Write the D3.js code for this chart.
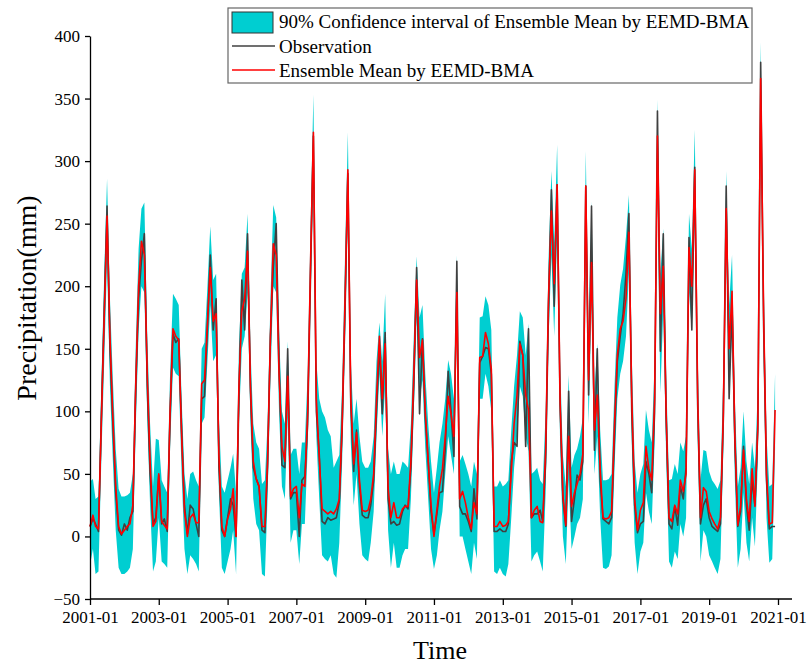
<!DOCTYPE html>
<html lang="en">
<head>
  <meta charset="UTF-8">
  <title>Precipitation - EEMD-BMA</title>
  <script src="https://d3js.org/d3.v7.min.js"></script>
  <style>
    body {
      margin: 0;
      background: #fff;
    }
    svg {
      display: block;
    }
    svg text {
      font-family: "Liberation Serif", "Times New Roman", serif;
      fill: #000;
    }
    .axis path, .axis line {
      stroke: #000;
      stroke-width: 1.3;
    }
    .axis text {
      font-size: 17px;
    }
  </style>
</head>
<body>
<svg width="807" height="666"></svg>
<script>
  // monthly series, 2001-01 .. 2020-12 (one row per year)
  const startMonth = "2001-01";

  const observation = [
    8, 14, 10, 4, 95, 180, 264, 150, 90, 35, 5, 1,
    10, 5, 15, 20, 115, 190, 220, 242, 120, 50, 10, 15,
    49, 10, 14, 4, 95, 162, 155, 158, 85, 25, 2, 25,
    22, 10, 0, 110, 112, 168, 225, 165, 190, 55, 5, 0,
    15, 30, 25, 0, 110, 205, 165, 242, 115, 55, 46, 40,
    5, 3, 55, 160, 215, 250, 140, 57, 55, 150, 30, 35,
    35, 0, 45, 48, 90, 210, 320, 100, 66, 12, 10, 15,
    13, 14, 15, 28, 85, 180, 290, 105, 52, 85, 40, 17,
    15, 15, 25, 45, 100, 153, 98, 163, 30, 10, 12, 9,
    10, 20, 25, 22, 55, 120, 215, 98, 158, 95, 60, 20,
    2, 18, 35, 36, 70, 132, 100, 64, 220, 24, 18, 18,
    12, 4, 38, 14, 139, 144, 151, 150, 130, 4, 4, 6,
    4, 4, 10, 60, 75, 72, 156, 145, 72, 166, 15, 18,
    18, 21, 12, 60, 180, 277, 184, 281, 105, 30, 8, 116,
    12, 30, 49, 45, 60, 280, 113, 264, 69, 150, 45, 14,
    12, 10, 15, 80, 140, 160, 178, 210, 258, 100, 25, 3,
    10, 12, 60, 50, 35, 100, 340, 148, 242, 95, 10, 6,
    24, 9, 40, 30, 55, 239, 165, 295, 105, 10, 25, 30,
    15, 8, 6, 4, 10, 95, 280, 110, 184, 75, 8, 20,
    72, 25, 5, 45, 25, 85, 379, 170, 45, 6, 8, 8
  ];

  const ensembleMean = [
    8, 17, 8, 6, 90, 175, 256, 160, 95, 40, 8, 2,
    5, 8, 10, 25, 120, 200, 236, 225, 130, 60, 8, 12,
    50, 12, 9, 6, 100, 166, 160, 157, 80, 20, 0, 15,
    18, 11, 11, 122, 125, 170, 215, 172, 178, 65, 8, 0,
    14, 22, 38, 0, 120, 180, 190, 228, 120, 60, 46, 40,
    8, 8, 60, 160, 234, 225, 130, 72, 60, 128, 32, 38,
    40, 15, 42, 40, 100, 220, 323, 110, 63, 22, 20, 18,
    20, 18, 22, 30, 90, 190, 293, 110, 58, 83, 45, 21,
    20, 21, 30, 50, 110, 160, 110, 154, 39, 15, 27, 15,
    15, 22, 24, 24, 60, 130, 205, 143, 157, 100, 60, 25,
    0, 21, 40, 54, 80, 112, 98, 80, 195, 30, 36, 27,
    15, 6, 27, 18, 143, 144, 163, 154, 134, 8, 8, 12,
    8, 9, 12, 51, 90, 113, 154, 145, 113, 101, 15, 21,
    24, 12, 11, 70, 190, 260, 202, 281, 110, 33, 9, 80,
    24, 35, 42, 50, 66, 280, 125, 219, 85, 113, 54, 15,
    14, 15, 20, 90, 145, 166, 172, 190, 243, 112, 30, 5,
    21, 27, 72, 54, 45, 110, 320, 178, 216, 100, 15, 12,
    25, 18, 45, 36, 50, 231, 200, 293, 113, 15, 39, 36,
    20, 14, 10, 6, 15, 100, 262, 150, 196, 80, 9, 24,
    69, 30, 12, 54, 24, 90, 366, 180, 50, 10, 11, 101
  ];

  // 90% confidence interval bounds
  const ciUpper = [
    44, 46, 30, 32, 120, 210, 286, 190, 125, 70, 38, 32,
    32, 33, 35, 50, 150, 230, 262, 267, 160, 90, 40, 78,
    77, 45, 40, 35, 130, 194, 190, 185, 110, 50, 30, 50,
    52, 45, 40, 150, 155, 200, 248, 205, 210, 95, 40, 35,
    45, 55, 66, 35, 150, 210, 215, 258, 150, 90, 75, 70,
    42, 45, 90, 190, 265, 255, 165, 100, 90, 156, 65, 70,
    70, 50, 75, 75, 130, 250, 353, 140, 110, 100, 95, 85,
    80, 55, 60, 65, 120, 225, 323, 140, 90, 110, 80, 60,
    55, 55, 60, 80, 140, 171, 140, 194, 70, 50, 60, 50,
    50, 60, 58, 55, 90, 160, 224, 175, 185, 130, 90, 60,
    35, 55, 75, 90, 110, 141, 130, 110, 225, 60, 65, 58,
    50, 40, 60, 50, 175, 176, 192, 185, 165, 40, 40, 45,
    40, 42, 45, 85, 120, 145, 180, 175, 145, 170, 50, 52,
    55, 45, 42, 100, 220, 292, 235, 313, 140, 65, 40, 129,
    55, 65, 70, 80, 95, 308, 155, 268, 115, 154, 85, 45,
    45, 46, 50, 120, 175, 201, 214, 240, 273, 145, 60, 35,
    50, 58, 101, 85, 75, 140, 349, 210, 246, 130, 45, 46,
    58, 50, 75, 68, 80, 258, 230, 325, 145, 45, 69, 68,
    52, 45, 42, 38, 45, 130, 292, 185, 225, 110, 40, 55,
    100, 60, 42, 75, 55, 120, 395, 210, 80, 40, 42, 130
  ];

  const ciLower = [
    -23, -10, -30, -28, 60, 140, 220, 120, 60, 5, -25, -30,
    -30, -28, -25, -10, 85, 165, 200, 195, 95, 25, -28, -20,
    15, -20, -22, -25, 70, 135, 130, 128, 50, -10, -30, -15,
    -18, -22, -28, 90, 95, 140, 185, 140, 145, 35, -25, -30,
    -20, -10, 5, -30, 90, 150, 160, 195, 90, 30, 10, 5,
    -30, -32, 30, 125, 200, 195, 100, 40, 30, 95, -5, 5,
    5, -22, 10, 10, 70, 190, 290, 80, 30, -15, -18, -20,
    -15, -30, -33, -5, 60, 160, 260, 75, 25, 50, 10, -15,
    -18, -20, -5, 20, 80, 130, 80, 120, 5, -25, -5, -25,
    -25, -15, -10, -10, 30, 100, 175, 110, 125, 70, 30, -10,
    -26, -15, 5, 20, 50, 80, 65, 50, 165, 0, 0, -10,
    -20, -30, -5, -18, 110, 110, 130, 120, 100, -28, -30, -25,
    -30, -32, -22, 15, 55, 80, 120, 112, 80, 68, -20, -15,
    -12, -20, -28, 35, 155, 225, 160, 245, 75, 0, -22, 45,
    -10, 0, 10, 15, 30, 245, 90, 185, 50, 80, 15, -25,
    -26, -24, -15, 55, 110, 130, 140, 160, 210, 75, -5, -30,
    -12, -5, 35, 20, 10, 75, 285, 115, 180, 65, -20, -25,
    -12, -18, 10, 0, 15, 195, 165, 260, 80, -20, 5, 0,
    -15, -20, -25, -30, -18, 70, 230, 120, 160, 45, -25, -10,
    35, -5, -20, 15, -8, 60, 335, 145, 15, -21, -18, 70
  ];

  const yTicks = [-50, 0, 50, 100, 150, 200, 250, 300, 350, 400];
  const xTickLabels = ["2001-01", "2003-01", "2005-01", "2007-01", "2009-01", "2011-01",
                       "2013-01", "2015-01", "2017-01", "2019-01", "2021-01"];
  const legendLabels = [
    "90% Confidence interval of Ensemble Mean by EEMD-BMA",
    "Observation",
    "Ensemble Mean by EEMD-BMA"
  ];

  const colors = { band: "#00CED1", obs: "#404040", mean: "#FF0000" };

  const parseMonth = d3.timeParse("%Y-%m");
  const t0 = parseMonth(startMonth);
  const rows = observation.map((v, i) => ({
    date: d3.timeMonth.offset(t0, i),
    obs: v,
    mean: ensembleMean[i],
    lo: ciLower[i],
    hi: ciUpper[i]
  }));

  const svg = d3.select("svg");

  const x = d3.scaleTime()
    .domain([parseMonth("2001-01"), parseMonth("2021-01")])
    .range([90, 778]);
  const y = d3.scaleLinear()
    .domain([-50, 400])
    .range([599, 36]);

  // confidence band
  svg.append("path")
    .datum(rows)
    .attr("fill", colors.band)
    .attr("d", d3.area()
      .x(d => x(d.date))
      .y0(d => y(d.lo))
      .y1(d => y(d.hi)));

  // observation
  svg.append("path")
    .datum(rows)
    .attr("fill", "none")
    .attr("stroke", colors.obs)
    .attr("stroke-width", 1.6)
    .attr("stroke-linejoin", "round")
    .attr("d", d3.line().x(d => x(d.date)).y(d => y(d.obs)));

  // ensemble mean
  svg.append("path")
    .datum(rows)
    .attr("fill", "none")
    .attr("stroke", colors.mean)
    .attr("stroke-width", 1.6)
    .attr("stroke-linejoin", "round")
    .attr("d", d3.line().x(d => x(d.date)).y(d => y(d.mean)));

  // axes
  const xAxis = svg.append("g")
    .attr("class", "axis")
    .attr("transform", "translate(0,599)")
    .call(d3.axisBottom(x)
      .tickValues(xTickLabels.map(parseMonth))
      .tickFormat(d3.timeFormat("%Y-%m"))
      .tickSize(6)
      .tickSizeOuter(0)
      .tickPadding(6));
  // axis line runs a bit past the last tick
  xAxis.select(".domain").attr("d", "M90,0H792");
  xAxis.attr("font-family", null);

  const yAxis = svg.append("g")
    .attr("class", "axis")
    .attr("transform", "translate(90,0)")
    .call(d3.axisLeft(y)
      .tickValues(yTicks)
      .tickSize(5)
      .tickSizeOuter(0)
      .tickPadding(5));
  yAxis.attr("font-family", null);

  // axis titles
  svg.append("text")
    .attr("x", 440)
    .attr("y", 659)
    .attr("text-anchor", "middle")
    .style("font-size", "26px")
    .text("Time");

  svg.append("text")
    .attr("transform", "translate(36,298) rotate(-90)")
    .attr("text-anchor", "middle")
    .style("font-size", "28px")
    .text("Precipitation(mm)");

  // legend
  const legend = svg.append("g").attr("transform", "translate(228,8)");
  legend.append("rect")
    .attr("width", 524)
    .attr("height", 75)
    .attr("fill", "#fff")
    .attr("stroke", "#666")
    .attr("stroke-width", 1.2);

  legend.append("rect")
    .attr("x", 4).attr("y", 4)
    .attr("width", 41).attr("height", 21)
    .attr("fill", colors.band)
    .attr("stroke", "#333")
    .attr("stroke-width", 1);
  legend.append("line")
    .attr("x1", 4).attr("x2", 47)
    .attr("y1", 38).attr("y2", 38)
    .attr("stroke", colors.obs).attr("stroke-width", 1.5);
  legend.append("line")
    .attr("x1", 4).attr("x2", 47)
    .attr("y1", 62).attr("y2", 62)
    .attr("stroke", colors.mean).attr("stroke-width", 1.5);

  legend.selectAll("text.lab")
    .data(legendLabels)
    .join("text")
    .attr("class", "lab")
    .attr("x", 51)
    .attr("y", (d, i) => 20 + i * 24.5)
    .style("font-size", "19px")
    .text(d => d);
</script>
</body>
</html>
